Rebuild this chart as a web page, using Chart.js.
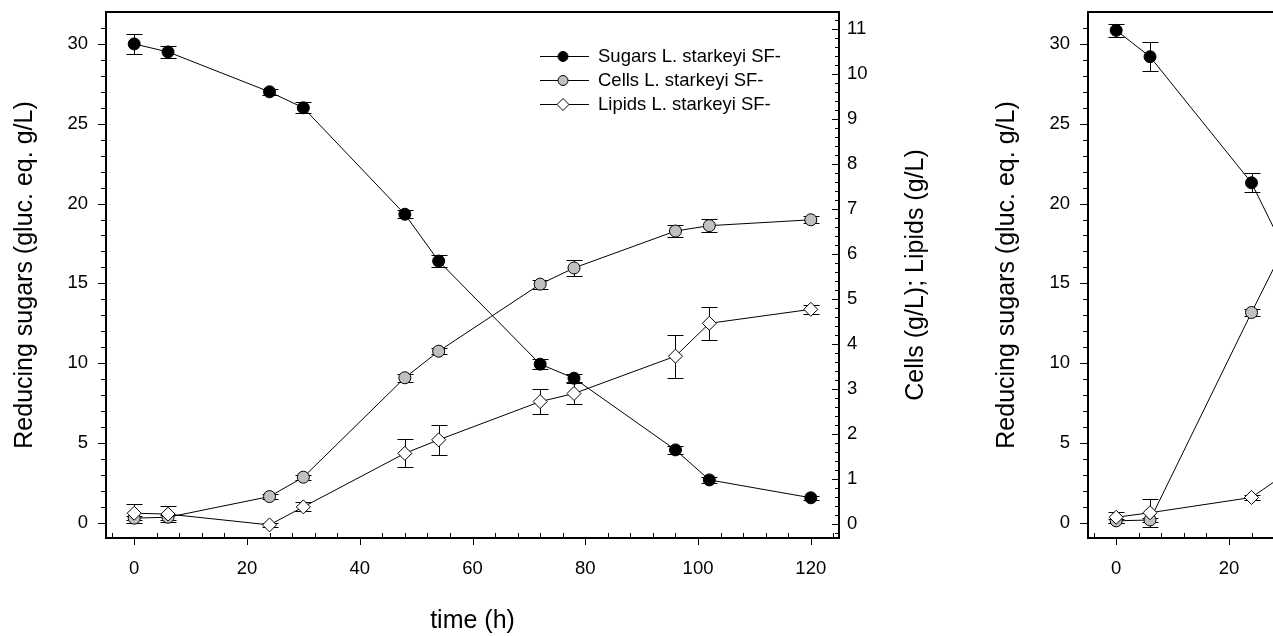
<!DOCTYPE html>
<html>
<head>
<meta charset="utf-8">
<script src="https://cdn.jsdelivr.net/npm/chart.js@4.4.1/dist/chart.umd.min.js"></script>
<style>
  html, body { margin: 0; padding: 0; background: #fff; overflow: hidden; }
  body { width: 1273px; height: 636px; position: relative; }
  canvas { position: absolute; top: 0; }
  #left { left: 0; }
  #right { left: 982px; }
</style>
</head>
<body>
<canvas id="left" width="960" height="636"></canvas>
<canvas id="right" width="960" height="636"></canvas>
<script>
// Left panel (L. starkeyi SF-)
const timeA = [0, 6, 24, 30, 48, 54, 72, 78, 96, 102, 120];
const sugarsA = [30.0, 29.5, 27.0, 26.0, 19.33, 16.4, 9.94, 9.06, 4.57, 2.69, 1.57];
const sugarsErrA = [0.65, 0.4, 0.2, 0.35, 0.25, 0.35, 0.3, 0.25, 0.25, 0.2, 0.12];
const cellsA = [0.13, 0.15, 0.61, 1.04, 3.25, 3.84, 5.33, 5.69, 6.51, 6.63, 6.76];
const cellsErrA = [0.05, 0.05, 0.06, 0.06, 0.09, 0.07, 0.1, 0.18, 0.13, 0.15, 0.08];
const lipidsA = [0.24, 0.22, -0.02, 0.38, 1.57, 1.87, 2.72, 2.9, 3.73, 4.46, 4.77];
const lipidsErrA = [0.21, 0.18, 0.05, 0.1, 0.31, 0.34, 0.27, 0.24, 0.48, 0.37, 0.1];

// Right panel (only the start is visible)
const timeB = [0, 6, 24, 30];
const sugarsB = [30.85, 29.2, 21.3, 17.0];
const sugarsErrB = [0.4, 0.9, 0.6, 0.5];
const cellsB = [0.07, 0.09, 4.7, 6.2];
const cellsErrB = [0.05, 0.05, 0.08, 0.1];
const lipidsB = [0.15, 0.25, 0.59, 1.11];
const lipidsErrB = [0.12, 0.31, 0.05, 0.1];

// ticks
const xTicks = [0, 20, 40, 60, 80, 100, 120];
const sugarTicks = [0, 5, 10, 15, 20, 25, 30];
const cellTicks = [0, 1, 2, 3, 4, 5, 6, 7, 8, 9, 10, 11];
const legendLabels = ['Sugars L. starkeyi SF-', 'Cells L. starkeyi SF-', 'Lipids L. starkeyi SF-'];

const FONT = "'Liberation Sans', Arial, sans-serif";
Chart.defaults.font.family = FONT;
Chart.defaults.color = '#000';

function pointsOf(xs, ys) {
    return xs.map((x, i) => ({ x: x, y: ys[i] }));
}

function drawMarker(ctx, style, x, y, r, fill) {
    ctx.beginPath();
    if (style === 'rectRot') {
        ctx.moveTo(x - r, y);
        ctx.lineTo(x, y - r);
        ctx.lineTo(x + r, y);
        ctx.lineTo(x, y + r);
        ctx.closePath();
    } else {
        ctx.arc(x, y, r, 0, Math.PI * 2);
    }
    ctx.fillStyle = fill;
    ctx.fill();
    ctx.stroke();
}

// frame + SigmaPlot style ticks
const framePlugin = {
    id: 'frame',
    afterDraw(chart) {
        const { ctx, chartArea: a, scales } = chart;
        ctx.save();
        ctx.strokeStyle = '#000';
        ctx.lineWidth = 1;
        const seg = (x1, y1, x2, y2) => {
            ctx.beginPath(); ctx.moveTo(x1, y1); ctx.lineTo(x2, y2); ctx.stroke();
        };
        for (let v = -4; v <= 124; v += 4) {
            const x = Math.round(scales.x.getPixelForValue(v)) + 0.5;
            if (v % 20 === 0) seg(x, a.bottom, x, a.bottom + 7);
            else seg(x, a.bottom, x, a.bottom - 5);
        }
        for (let v = 0; v <= 31; v++) {
            const y = Math.round(scales.y.getPixelForValue(v)) + 0.5;
            seg(a.left, y, a.left - (v % 5 === 0 ? 8 : 5), y);
        }
        for (let i = -1; i / 5 <= scales.y1.max; i++) {
            const y = Math.round(scales.y1.getPixelForValue(i / 5)) + 0.5;
            seg(a.right, y, a.right - (i % 5 === 0 ? 7 : 4), y);
        }
        ctx.lineWidth = 2;
        ctx.strokeRect(a.left, a.top, a.right - a.left, a.bottom - a.top);
        ctx.restore();
    }
};

const errorBars = {
    id: 'errorBars',
    beforeDatasetsDraw(chart) {
        const ctx = chart.ctx;
        ctx.save();
        ctx.strokeStyle = '#000';
        ctx.lineWidth = 1;
        chart.data.datasets.forEach((ds, i) => {
            const meta = chart.getDatasetMeta(i);
            const yScale = chart.scales[ds.yAxisID];
            meta.data.forEach((pt, j) => {
                const v = ds.data[j].y, e = ds.errors[j];
                const top = Math.round(yScale.getPixelForValue(v + e)) + 0.5;
                const bot = Math.round(yScale.getPixelForValue(v - e)) + 0.5;
                const x = Math.round(pt.x) + 0.5;
                ctx.beginPath();
                ctx.moveTo(x, top); ctx.lineTo(x, bot);
                ctx.moveTo(x - 8, top); ctx.lineTo(x + 8, top);
                ctx.moveTo(x - 8, bot); ctx.lineTo(x + 8, bot);
                ctx.stroke();
            });
        });
        ctx.restore();
    }
};

const rightTitle = {
    id: 'rightTitle',
    afterDraw(chart, args, opts) {
        const { ctx, chartArea: a } = chart;
        ctx.save();
        ctx.translate(a.right + 77, (a.top + a.bottom) / 2);
        ctx.rotate(-Math.PI / 2);
        ctx.font = '25px ' + FONT;
        ctx.fillStyle = '#000';
        ctx.textAlign = 'center';
        ctx.textBaseline = 'middle';
        ctx.fillText(opts.text, 0, 0);
        ctx.restore();
    }
};

const legendPlugin = {
    id: 'sfLegend',
    afterDraw(chart, args, opts) {
        if (!opts.show) return;
        const ctx = chart.ctx;
        ctx.save();
        ctx.strokeStyle = '#000';
        ctx.lineWidth = 1;
        ctx.font = '18.5px ' + FONT;
        ctx.textBaseline = 'middle';
        chart.data.datasets.forEach((ds, i) => {
            const y = 56 + i * 24;
            ctx.beginPath();
            ctx.moveTo(540, y + 0.5); ctx.lineTo(589, y + 0.5);
            ctx.stroke();
            drawMarker(ctx, ds.pointStyle, 563, y + 0.5, ds.pointStyle === 'rectRot' ? 6 : 5, ds.pointBackgroundColor);
            ctx.fillStyle = '#000';
            ctx.fillText(ds.label, 598, y + 1);
        });
        ctx.restore();
    }
};

// no extra room for edge labels, the frame is placed by hand
function fixV(width) {
    return s => { s.width = width; s.paddingTop = 0; s.paddingBottom = 0; };
}

function makeChart(id, time, sugars, sugarsErr, cells, cellsErr, lipids, lipidsErr, showLegend) {
    const base = { borderColor: '#000', borderWidth: 1, pointBorderColor: '#000', pointBorderWidth: 1, tension: 0, showLine: true };
    return new Chart(document.getElementById(id), {
        type: 'line',
        data: {
            datasets: [
                Object.assign({}, base, { label: legendLabels[0], data: pointsOf(time, sugars), errors: sugarsErr, yAxisID: 'y',
                    pointStyle: 'circle', pointRadius: 6, pointBackgroundColor: '#000', order: 1 }),
                Object.assign({}, base, { label: legendLabels[1], data: pointsOf(time, cells), errors: cellsErr, yAxisID: 'y1',
                    pointStyle: 'circle', pointRadius: 6, pointBackgroundColor: '#c0c0c0', order: 2 }),
                Object.assign({}, base, { label: legendLabels[2], data: pointsOf(time, lipids), errors: lipidsErr, yAxisID: 'y1',
                    pointStyle: 'rectRot', pointRadius: 7, pointBackgroundColor: '#fff', order: 0 })
            ]
        },
        options: {
            responsive: false,
            animation: false,
            devicePixelRatio: 1,
            layout: { padding: { top: 12, left: 0, right: 0, bottom: 0 } },
            plugins: {
                legend: { display: false },
                tooltip: { enabled: false },
                rightTitle: { text: 'Cells (g/L); Lipids (g/L)' },
                sfLegend: { show: showLegend }
            },
            scales: {
                x: {
                    type: 'linear', min: -5, max: 125,
                    afterBuildTicks: s => { s.ticks = xTicks.map(v => ({ value: v })); },
                    afterFit: s => { s.height = 98; s.paddingLeft = 0; s.paddingRight = 0; },
                    grid: { display: false, drawTicks: false },
                    border: { display: false },
                    ticks: { padding: 20, font: { size: 18.5 }, color: '#000', maxRotation: 0, autoSkip: false },
                    title: { display: true, text: 'time (h)', font: { size: 25 }, padding: { top: 0, bottom: 0 } }
                },
                y: {
                    position: 'left', min: -0.95, max: 32,
                    afterBuildTicks: s => { s.ticks = sugarTicks.map(v => ({ value: v })); },
                    afterFit: fixV(106),
                    grid: { display: false, drawTicks: false },
                    border: { display: false },
                    ticks: { padding: 18, font: { size: 18.5 }, color: '#000' },
                    title: { display: true, text: 'Reducing sugars (gluc. eq. g/L)', font: { size: 25 }, padding: { top: 10, bottom: 0 } }
                },
                y1: {
                    position: 'right', min: -0.311, max: 11.378,
                    afterBuildTicks: s => { s.ticks = cellTicks.map(v => ({ value: v })); },
                    afterFit: fixV(121),
                    grid: { display: false, drawTicks: false },
                    border: { display: false },
                    ticks: { padding: 8, font: { size: 18.5 }, color: '#000' }
                }
            }
        },
        plugins: [errorBars, framePlugin, rightTitle, legendPlugin]
    });
}

makeChart('left', timeA, sugarsA, sugarsErrA, cellsA, cellsErrA, lipidsA, lipidsErrA, true);
makeChart('right', timeB, sugarsB, sugarsErrB, cellsB, cellsErrB, lipidsB, lipidsErrB, false);
</script>
</body>
</html>
